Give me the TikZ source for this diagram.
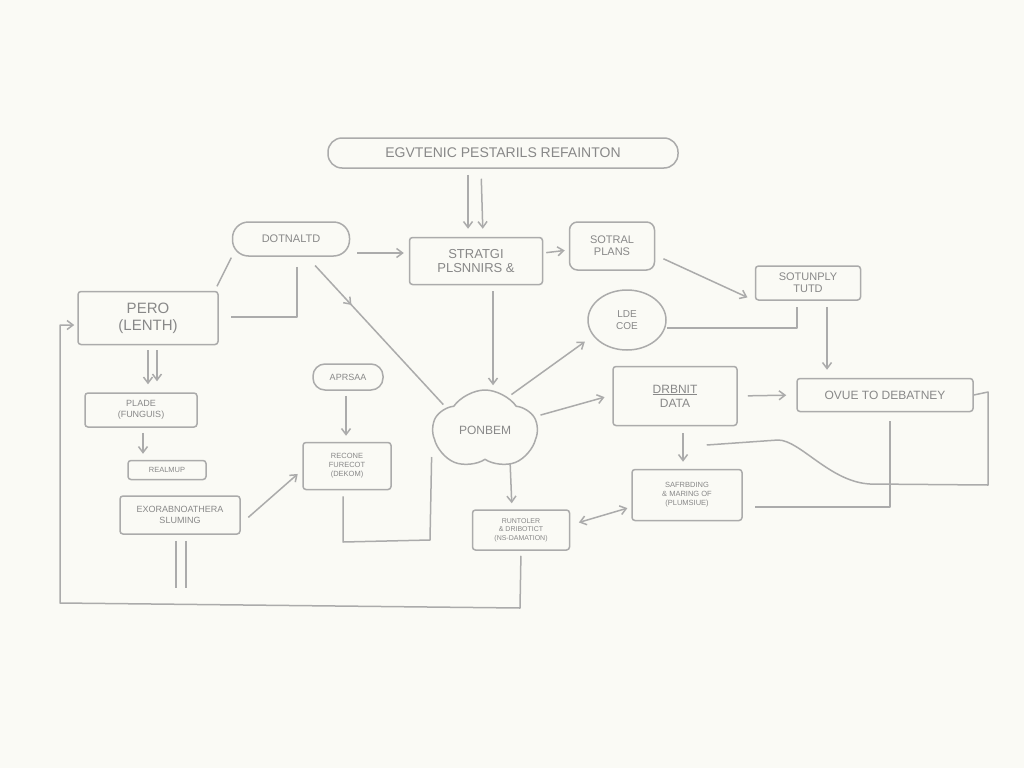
\documentclass[tikz,border=0pt]{standalone}
\usepackage{fontspec}
\setmainfont{Liberation Sans}
\usetikzlibrary{arrows.meta,shapes.geometric,shapes.symbols,decorations.markings}
\definecolor{bg}{HTML}{FAFAF5}
\definecolor{ln}{HTML}{ABABAB}
\definecolor{tx}{HTML}{888888}
\begin{document}
\begin{tikzpicture}[x=1pt,y=-1pt,
 lbl/.style={draw=ln, line width=1.5pt, text=tx, align=center, inner sep=0pt, font=\fontsize{12}{13}\selectfont},
 sq/.style={lbl, rounded corners=3pt},
 rnd/.style={lbl, rounded corners=14pt},
 conn/.style={draw=ln, line width=1.5pt, line join=round},
 arr/.style={conn, -{Straight Barb[length=6pt,width=9pt]}},
 barrow/.style={conn, {Straight Barb[length=6pt,width=9pt]}-{Straight Barb[length=6pt,width=9pt]}},
 midarr/.style={conn, postaction={decorate}, decoration={markings, mark=at position 0.32 with {\arrow[ln]{Straight Barb[length=6pt,width=9pt]}}}},
]
\fill[bg] (0,0) rectangle (1024,768);
\useasboundingbox (0,0) rectangle (1024,768);

% nodes
\node[rnd, minimum width=350pt, minimum height=30pt, font=\fontsize{14}{15}\selectfont] (title) at (503,153) {EGVTENIC PESTARILS REFAINTON};
\node[rnd, minimum width=117pt, minimum height=34pt, rounded corners=16pt, font=\fontsize{11}{12}\selectfont] (dot) at (291,239) {DOTNALTD};
\node[sq, minimum width=133pt, minimum height=47pt, font=\fontsize{13}{14}\selectfont] (strat) at (476,261) {STRATGI\\PLSNNIRS \&};
\node[sq, rounded corners=8pt, minimum width=85pt, minimum height=48pt, font=\fontsize{11}{12}\selectfont] (sotral) at (612,246) {SOTRAL\\PLANS};
\node[sq, minimum width=105pt, minimum height=34pt, font=\fontsize{11}{12}\selectfont] (sotun) at (808,283) {SOTUNPLY\\TUTD};
\node[lbl, ellipse, minimum width=78pt, minimum height=60pt, font=\fontsize{10}{12}\selectfont] (lde) at (627,320) {LDE\\COE};
\node[sq, minimum width=140pt, minimum height=53pt, font=\fontsize{15}{17}\selectfont] (pero) at (148,318) {PERO\\(LENTH)};
\node[sq, minimum width=112pt, minimum height=34pt, font=\fontsize{9}{11}\selectfont] (plade) at (141,410) {PLADE\\(FUNGUIS)};
\node[sq, minimum width=78pt, minimum height=19pt, font=\fontsize{7.5}{8}\selectfont] (realm) at (167,470) {REALMUP};
\node[sq, minimum width=120pt, minimum height=38pt, font=\fontsize{9}{11}\selectfont] (exp) at (180,515) {EXORABNOATHERA\\SLUMING};
\node[rnd, minimum width=70pt, minimum height=26pt, rounded corners=12pt, font=\fontsize{9}{10}\selectfont] (aprs) at (348,377) {APRSAA};
\node[sq, minimum width=88pt, minimum height=47pt, font=\fontsize{7.5}{9}\selectfont] (recone) at (347,466) {RECONE\\FURECOT\\(DEKOM)};
\node[lbl, cloud, cloud puffs=5, cloud puff arc=110, aspect=1.3, minimum width=104pt, minimum height=80pt, font=\fontsize{12}{13}\selectfont] (pon) at (485,430) {PONBEM};
\node[sq, minimum width=124pt, minimum height=59pt, font=\fontsize{12}{14}\selectfont] (drb) at (675,396) {\underline{DRBNIT}\\DATA};
\node[sq, minimum width=176pt, minimum height=33pt, font=\fontsize{12}{13}\selectfont] (ovue) at (885,395) {OVUE TO DEBATNEY};
\node[sq, minimum width=110pt, minimum height=51pt, font=\fontsize{7.5}{9}\selectfont] (safr) at (687,495) {SAFRBDING\\\& MARING OF\\(PLUMSIUE)};
\node[sq, minimum width=97pt, minimum height=40pt, font=\fontsize{7}{8.5}\selectfont] (runt) at (521,530) {RUNTOLER\\\& DRIBOTICT\\(NS-DAMATION)};

% connectors
\draw[arr, shorten <=6pt, shorten >=8pt] (title.south -| 468,0) -- (strat.north -| 468,0);
\draw[arr, shorten <=10pt, shorten >=8pt] (title.south -| 481,0) -- (strat.north -| 483,0);
\draw[arr, shorten <=7pt, shorten >=5pt] (dot.east |- 0,253) -- (strat.west |- 0,253);
\draw[arr, shorten <=3pt, shorten >=4pt] (strat.east |- 0,253) -- (sotral.west |- 0,250);
\draw[arr, shorten <=9pt, shorten >=8pt] (sotral.east |- 0,255) -- (sotun.south west);
\draw[midarr, shorten <=12pt, shorten >=4pt] (dot.south -| 307,0) -- (pon.150);
\draw[conn, shorten <=1pt, shorten >=5pt] (dot.south west) -- ([xshift=-4pt]pero.north east);
\draw[conn, shorten <=10pt, shorten >=12pt] (dot.south -| 297,0) |- (pero.east |- 0,317);
\draw[arr, shorten <=6pt, shorten >=4pt] (strat.south -| 493,0) -- (pon.north -| 493,0);
\draw[arr, shorten <=4pt, shorten >=10pt] (pon.55) -- (lde.205);
\draw[conn, shorten >=6pt] (lde.east |- 0,328) -| ([xshift=-11pt]sotun.south);
\draw[arr, shorten <=6pt, shorten >=8pt] (sotun.south -| 827,0) -- (ovue.north -| 827,0);
\draw[arr, shorten <=6pt, shorten >=8pt] (pon.15) -- (drb.west |- 0,395);
\draw[arr, shorten <=10pt, shorten >=10pt] (drb.east) -- (ovue.west);
\draw[arr, shorten <=7pt, shorten >=7pt] (drb.south -| 683,0) -- (safr.north -| 683,0);
\draw[conn] (ovue.east) -- (988,392) -- (988,485) -- (870,484) .. controls (830,482) and (800,440) .. (778,440) -- ([xshift=-36pt]safr.north east |- 0,445);
\draw[conn, shorten <=9pt, shorten >=12pt] (ovue.south -| 890,0) |- (safr.east |- 0,507);
\draw[barrow, shorten <=9pt, shorten >=4pt] (runt.east |- 0,525) -- (safr.west |- 0,507);
\draw[arr, shorten <=4pt, shorten >=6pt] (pon.south -| 510,0) -- (runt.north -| 512,0);
\draw[arr, shorten <=5pt, shorten >=3pt] (runt.south) -- (520,608) -- (60,603) -- (60,325) -- (pero.west |- 0,325);
\draw[conn, shorten >=6pt] (pon.west |- 0,457) -- (430,540) -- (343,542) -- (recone.south -| 343,0);
\draw[arr, shorten <=5pt, shorten >=6pt] (aprs.south -| 346,0) -- (recone.north -| 346,0);
\draw[arr, shorten <=10pt, shorten >=6pt] (exp.east |- 0,524) -- (recone.west |- 0,470);
\draw[arr, shorten <=5pt, shorten >=8pt] (pero.south -| 148,0) -- (plade.north -| 148,0);
\draw[arr, shorten <=5pt, shorten >=11pt] (pero.south -| 157,0) -- (plade.north -| 157,0);
\draw[arr, shorten <=5pt, shorten >=6pt] (plade.south -| 143,0) -- (realm.north -| 143,0);
\draw[conn, shorten <=6pt] (exp.south -| 176,0) -- (176,588);
\draw[conn, shorten <=6pt] (exp.south -| 186,0) -- (186,588);
\end{tikzpicture}
\end{document}
